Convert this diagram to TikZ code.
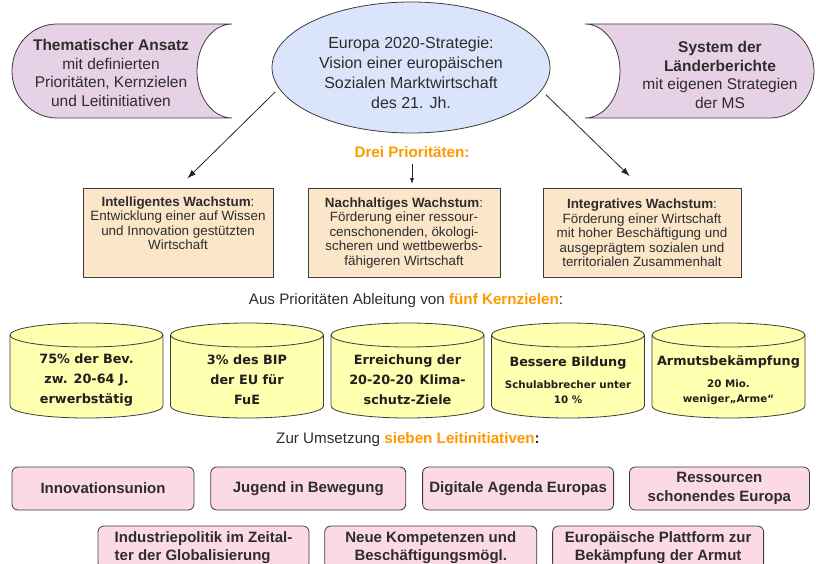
\documentclass[tikz,border=0pt]{standalone}
\usepackage{fontspec}
\setmainfont{Liberation Sans}
\newfontfamily\eugoalface{DejaVu Sans}
\usetikzlibrary{
  arrows.meta,
  positioning,
  calc,
  shapes.geometric
}
\definecolor{euText}{RGB}{45,45,45}
\definecolor{euLine}{RGB}{60,60,60}
\definecolor{euTab}{RGB}{230,209,230}
\definecolor{euSky}{RGB}{218,228,250}
\definecolor{euPeach}{RGB}{252,230,201}
\definecolor{euGoal}{RGB}{255,255,176}
\definecolor{euFlag}{RGB}{252,218,228}
\definecolor{euOrange}{RGB}{255,153,0}
\newcommand\eutabfont{\fontsize{15.5}{18.5}\selectfont}
\newcommand\euvisionfont{\fontsize{16}{20}\selectfont}
\newcommand\euboxfont{\fontsize{13.4}{14.5}\selectfont}
\newcommand\euheadfont{\fontsize{15.2}{18}\selectfont}
\newcommand\eugoalfont{\eugoalface\bfseries\fontsize{12.8}{20}\selectfont}
\newcommand\eugoalsmall{\eugoalface\bfseries\fontsize{10.3}{14}\selectfont}
\newcommand\euflagfont{\bfseries\fontsize{15}{18.5}\selectfont}
\tikzset{
  eutext/.style={
    text=euText,
    align=center,
    inner sep=0pt
  },
  eutab/.style={
    draw=euLine,
    line width=0.8pt,
    fill=euTab
  },
  euellipse/.style={
    ellipse,
    draw=euLine,
    line width=0.8pt,
    fill=euSky,
    minimum width=278pt,
    minimum height=131pt,
    inner sep=0pt
  },
  eubox/.style={
    draw=euLine,
    line width=0.8pt,
    fill=euPeach,
    text=euText,
    align=center,
    minimum height=89pt,
    inner sep=0pt,
    font=\euboxfont
  },
  eucyl/.style={
    draw=euLine,
    line width=0.8pt,
    fill=euGoal
  },
  eugoaltext/.style={
    eutext,
    text=black!88,
    font=\eugoalfont
  },
  euflag/.style={
    draw=euLine,
    line width=0.8pt,
    rounded corners=6pt,
    fill=euFlag,
    text=euText,
    align=center,
    minimum height=43pt,
    inner sep=0pt,
    font=\euflagfont
  },
  euarrow/.style={
    -{Latex[length=9pt,width=6pt]},
    line width=0.8pt,
    draw=black!85
  },
  eusmallarrow/.style={
    -{Latex[length=6pt,width=4pt]},
    line width=0.8pt,
    draw=black!85
  }
}

\begin{document}
\begin{tikzpicture}[x=1pt,y=1pt]
  \clip (0,0) rectangle (816,-564);

  % side tabs
  \draw[eutab] (232,-24) -- (57,-24)
    arc[start angle=90,end angle=270,x radius=45pt,y radius=47pt] -- (232,-118)
    arc[start angle=270,end angle=90,x radius=35pt,y radius=47pt] -- cycle;
  \node[eutext, font=\eutabfont] (thematic) at (111,-73)
    {\textbf{Thematischer Ansatz}\\mit definierten\\Prioritäten, Kernzielen\\und Leitinitiativen};

  \draw[eutab] (585,-24) -- (770,-24)
    arc[start angle=90,end angle=-90,x radius=44pt,y radius=47pt] -- (585,-118)
    arc[start angle=-90,end angle=90,x radius=35pt,y radius=47pt] -- cycle;
  \node[eutext, font=\eutabfont] (reports) at (720,-75)
    {\textbf{System der}\\\textbf{Länderberichte}\\mit eigenen Strategien\\der MS};

  % strategy
  \node[euellipse] (strategy) at (411,-67.5) {};
  \node[eutext, font=\euvisionfont] (vision) at (411,-73)
    {Europa 2020-Strategie:\\Vision einer europäischen\\Sozialen Marktwirtschaft\\des 21. Jh.};

  \node[eutext, font=\euheadfont, text=euOrange] (prio) at (412,-152)
    {\textbf{Drei Prioritäten:}};

  % priorities
  \node[eubox, minimum width=190pt] (smart) at (178,-232.5)
    {\textbf{Intelligentes Wachstum}:\\Entwicklung einer auf Wissen\\und Innovation gestützten\\Wirtschaft\\\strut};
  \node[eubox, minimum width=192pt] (sustain) at (404,-233)
    {\textbf{Nachhaltiges Wachstum}:\\Förderung einer ressour-\\censchonenden, ökologi-\\scheren und wettbewerbs-\\fähigeren Wirtschaft};
  \node[eubox, minimum width=198pt] (inclusive) at (642,-233)
    {\textbf{Integratives Wachstum}:\\Förderung einer Wirtschaft\\mit hoher Beschäftigung und\\ausgeprägtem sozialen und\\territorialen Zusammenhalt};

  \draw[euarrow, shorten <=5pt, shorten >=13pt] (strategy.189) -- (smart.north);
  \draw[euarrow, shorten <=6pt, shorten >=17pt] (strategy.-10) -- (inclusive.north);
  \draw[eusmallarrow, shorten <=6pt, shorten >=4pt] (prio.south) -- (prio.south |- sustain.north);

  % core targets
  \node[eutext, font=\euheadfont] (goalhead) at (406,-301)
    {Aus Prioritäten Ableitung von \textcolor{euOrange}{\textbf{fünf Kernzielen}}:};

  \foreach \i in {0,...,4} {
    \pgfmathsetmacro{\cx}{86.5+160.5*\i}
    \draw[eucyl] ({\cx-76.5},-335) -- ({\cx-76.5},-406)
      arc[start angle=180,end angle=360,x radius=76.5pt,y radius=12pt]
      -- ({\cx+76.5},-335)
      arc[start angle=0,end angle=180,x radius=76.5pt,y radius=12pt] -- cycle;
    \draw[draw=euLine, line width=0.8pt] ({\cx-76.5},-335)
      arc[start angle=180,end angle=360,x radius=76.5pt,y radius=12pt];
    \coordinate (goal\i) at (\cx,-380);
  }
  \node[eugoaltext] (employ) at (goal0) {75\% der Bev.\\zw. 20-64 J.\\erwerbstätig};
  \node[eugoaltext] (research) at (goal1) {3\% des BIP\\der EU für\\FuE};
  \node[eugoaltext] (climate) at (goal2) {Erreichung der\\20-20-20\enspace Klima-\\schutz-Ziele};
  \node[eugoaltext] (education) at (goal3)
    {Bessere Bildung\\[2pt]{\eugoalsmall Schulabbrecher unter}\\[-5pt]{\eugoalsmall 10 \%}};
  \node[eugoaltext] (poverty) at (goal4)
    {Armutsbekämpfung\\[2pt]{\eugoalsmall 20 Mio.}\\[-5pt]{\eugoalsmall weniger„Arme“}};

  % flagship initiatives
  \node[eutext, font=\euheadfont] (flaghead) at (408,-440)
    {Zur Umsetzung \textcolor{euOrange}{\textbf{sieben Leitinitiativen}}\textbf{:}};

  \node[euflag, minimum width=182pt] (innovation) at (103,-488.5) {Innovationsunion};
  \node[euflag, minimum width=195pt, right=16pt of innovation] (youth) {Jugend in Bewegung};
  \node[euflag, minimum width=191pt, right=16pt of youth] (digital) {Digitale Agenda Europas};
  \node[euflag, minimum width=180pt, right=15pt of digital] (resource) {Ressourcen\\schonendes Europa};

  \node[euflag, minimum width=211pt, align=left] (industry) at (203.5,-547.5)
    {Industriepolitik im Zeital-\\ter der Globalisierung};
  \node[euflag, minimum width=212pt, right=15pt of industry] (skills)
    {Neue Kompetenzen und\\Beschäftigungsmögl.};
  \node[euflag, minimum width=211pt, right=15pt of skills] (platform)
    {Europäische Plattform zur\\Bekämpfung der Armut};
\end{tikzpicture}
\end{document}
